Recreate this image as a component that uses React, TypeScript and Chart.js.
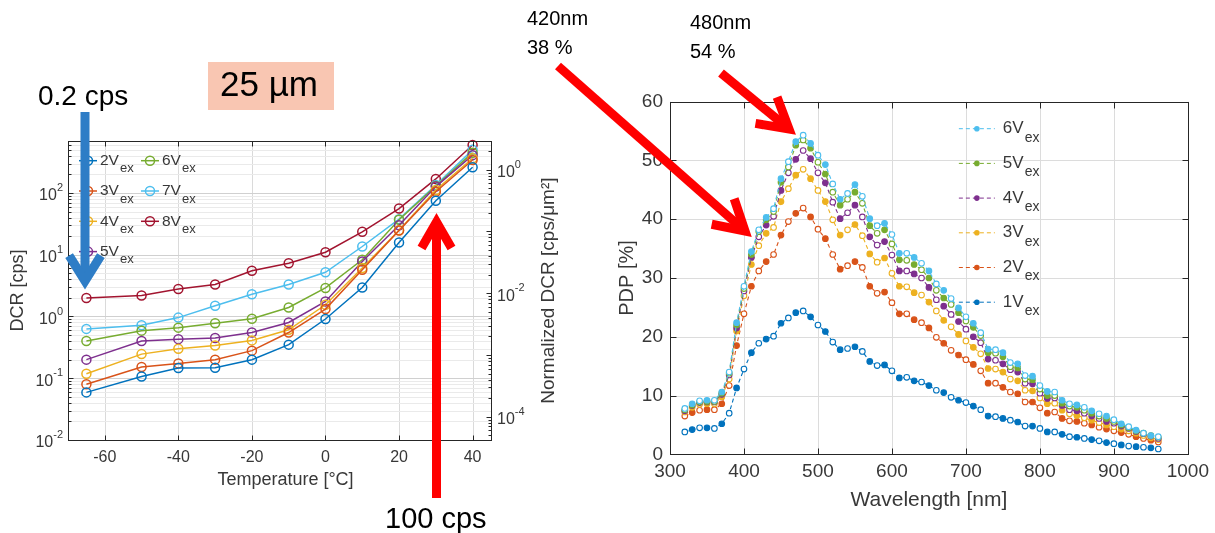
import React, { useEffect, useRef } from 'react';
import { Chart, registerables } from 'chart.js';

Chart.register(...registerables);

// ---------------- Left chart data (DCR vs temperature) ----------------
const temperatures = [-65, -50, -40, -30, -20, -10, 0, 10, 20, 30, 40];
const temperatureTicks = [-60, -40, -20, 0, 20, 40];
const dcr2V = [0.059, 0.107, 0.146, 0.148, 0.2, 0.35, 0.91, 2.95, 15.8, 75, 261];
const dcr3V = [0.08, 0.152, 0.174, 0.2, 0.28, 0.55, 1.32, 5.7, 24.6, 105, 343];
const dcr4V = [0.118, 0.246, 0.3, 0.34, 0.41, 0.61, 1.55, 6.1, 25, 112, 366];
const dcr5V = [0.2, 0.4, 0.43, 0.45, 0.55, 0.8, 1.75, 7.8, 30, 127, 410];
const dcr6V = [0.4, 0.59, 0.66, 0.78, 0.92, 1.4, 2.9, 8.3, 37, 130, 450];
const dcr7V = [0.63, 0.72, 0.96, 1.49, 2.3, 3.3, 5.2, 13.6, 37.7, 135, 500];
const dcr8V = [1.99, 2.19, 2.78, 3.3, 5.5, 7.3, 11, 23.5, 56, 169, 600];
const dcrLabels = ['2V', '3V', '4V', '5V', '6V', '7V', '8V'];
const dcrColors = ['#0072BD', '#D95319', '#EDB120', '#7E2F8E', '#77AC30', '#4DBEEE', '#A2142F'];
const dcrAxisMin = 0.01;
const dcrAxisMax = 690;
const pixelAreaUm2 = 238; // normalization factor for the right axis
const dcrDecades = [-2, -1, 0, 1, 2];
const normDecades = [-4, -2, 0];

// ---------------- Right chart data (PDP vs wavelength) ----------------
const wavelengths = [
  320, 330, 340, 350, 360, 370, 380, 390, 400, 410,
  420, 430, 440, 450, 460, 470, 480, 490, 500, 510,
  520, 530, 540, 550, 560, 570, 580, 590, 600, 610,
  620, 630, 640, 650, 660, 670, 680, 690, 700, 710,
  720, 730, 740, 750, 760, 770, 780, 790, 800, 810,
  820, 830, 840, 850, 860, 870, 880, 890, 900, 910,
  920, 930, 940, 950, 960,
];
const pdp6V = [
  7.8, 8.6, 9.1, 9.2, 9.2, 10.6, 14.0, 22.4, 28.6, 34.5,
  38.2, 40.3, 41.8, 46.9, 49.8, 53.2, 54.3, 52.9, 50.9, 49.3,
  46.0, 43.4, 44.4, 45.9, 43.9, 40.1, 38.9, 39.3, 37.4, 34.2,
  34.2, 33.5, 32.5, 31.2, 29.0, 27.9, 26.5, 24.9, 23.4, 22.3,
  20.7, 17.9, 17.8, 17.3, 15.6, 15.4, 13.4, 13.3, 11.7, 10.7,
  10.6, 9.2, 8.6, 8.4, 8.0, 7.4, 6.9, 6.5, 5.9, 5.2,
  4.7, 4.1, 3.6, 3.2, 3.0,
];
const pdp5V = [
  7.6, 8.4, 8.9, 9.0, 9.0, 10.4, 13.8, 22.0, 28.2, 34.0,
  37.9, 39.9, 41.3, 46.3, 48.9, 52.6, 53.5, 52.1, 49.7, 47.7,
  44.6, 42.4, 43.4, 44.6, 42.7, 38.9, 37.6, 38.2, 35.8, 33.1,
  33.0, 32.3, 31.4, 30.0, 27.9, 26.6, 25.5, 24.1, 22.7, 21.6,
  20.2, 17.3, 17.2, 16.6, 14.9, 14.7, 12.8, 12.7, 11.1, 10.0,
  10.0, 8.7, 8.2, 8.0, 7.5, 7.0, 6.5, 6.1, 5.6, 5.0,
  4.5, 4.0, 3.6, 3.2, 2.9,
];
const pdp4V = [
  7.4, 8.3, 8.8, 8.9, 8.9, 10.2, 13.5, 21.5, 27.8, 33.5,
  37.0, 39.0, 40.5, 44.9, 47.9, 50.2, 51.7, 50.3, 47.9, 46.2,
  42.9, 40.1, 41.1, 42.4, 40.4, 37.0, 35.6, 36.2, 33.9, 31.2,
  31.2, 30.7, 30.0, 28.4, 26.3, 25.2, 23.8, 22.6, 21.3, 20.0,
  19.0, 16.2, 16.0, 15.4, 14.4, 14.0, 12.1, 12.0, 10.4, 9.5,
  9.6, 8.3, 7.6, 7.4, 7.0, 6.5, 6.1, 5.6, 5.3, 4.8,
  4.4, 3.9, 3.5, 3.1, 2.7,
];
const pdp3V = [
  7.2, 8.0, 8.5, 8.6, 8.6, 9.8, 12.8, 21.0, 27.0, 32.3,
  35.5, 37.6, 38.6, 43.0, 45.2, 47.5, 48.5, 46.9, 44.9, 43.0,
  39.9, 37.3, 38.2, 39.1, 37.2, 34.1, 32.7, 33.4, 30.8, 28.6,
  28.5, 27.5, 27.1, 25.9, 24.4, 22.8, 21.7, 20.4, 19.3, 18.2,
  17.1, 14.6, 14.5, 14.0, 12.8, 12.5, 10.9, 10.8, 9.6, 8.6,
  8.7, 7.5, 6.9, 6.6, 6.2, 5.8, 5.4, 5.0, 4.7, 4.3,
  4.0, 3.6, 3.2, 2.8, 2.5,
];
const pdp2V = [
  6.5, 7.1, 7.5, 7.6, 7.6, 8.6, 11.7, 18.5, 23.9, 28.6,
  31.2, 32.8, 34.0, 37.3, 39.6, 41.0, 41.9, 40.4, 38.3, 36.7,
  34.0, 31.5, 32.1, 32.8, 31.8, 28.6, 27.4, 27.6, 25.8, 23.9,
  23.9, 22.9, 22.4, 21.5, 19.9, 18.9, 17.7, 16.9, 16.1, 15.3,
  14.2, 12.1, 12.1, 11.4, 10.6, 10.3, 8.9, 8.9, 7.9, 7.0,
  7.2, 6.1, 5.7, 5.6, 5.3, 5.0, 4.6, 4.3, 4.0, 3.7,
  3.4, 3.0, 2.7, 2.4, 2.1,
];
const pdp1V = [
  3.8, 4.2, 4.5, 4.5, 4.4, 5.2, 7.0, 11.3, 14.5, 17.3,
  18.9, 19.6, 20.1, 22.3, 23.2, 24.1, 24.4, 23.4, 22.0, 20.9,
  19.1, 17.8, 18.0, 18.3, 17.5, 15.8, 15.1, 15.2, 14.2, 13.0,
  13.1, 12.5, 12.3, 11.7, 10.9, 10.5, 9.7, 9.2, 8.8, 8.2,
  7.6, 6.5, 6.4, 6.1, 5.8, 5.5, 4.8, 4.8, 4.4, 3.8,
  3.8, 3.4, 3.0, 2.9, 2.7, 2.5, 2.3, 2.0, 1.8, 1.6,
  1.4, 1.3, 1.2, 1.1, 0.9,
];
const pdpLabels = ['6V', '5V', '4V', '3V', '2V', '1V'];
const pdpColors = ['#4DBEEE', '#77AC30', '#7E2F8E', '#EDB120', '#D95319', '#0072BD'];
const wavelengthTicks = [300, 400, 500, 600, 700, 800, 900, 1000];
const pdpTicks = [0, 10, 20, 30, 40, 50, 60];

// ---------------- drawing helpers ----------------
const FONT = "'Liberation Sans', Arial, Helvetica, sans-serif";
const INK = '#262626';
const LABEL = '#383838';

function seg(ctx: any, x1: number, y1: number, x2: number, y2: number) {
  ctx.beginPath();
  ctx.moveTo(x1, y1);
  ctx.lineTo(x2, y2);
  ctx.stroke();
}
const r5 = (v: number) => Math.round(v) + 0.5;

function supLabel(ctx: any, base: string, exp: string, x: number, y: number, align: string, size: number, expSize: number) {
  ctx.font = `${size}px ${FONT}`;
  const wb = ctx.measureText(base).width;
  ctx.font = `${expSize}px ${FONT}`;
  const we = ctx.measureText(exp).width;
  const start = align === 'right' ? x - wb - we : x;
  ctx.textAlign = 'left';
  ctx.textBaseline = 'middle';
  ctx.font = `${size}px ${FONT}`;
  ctx.fillText(base, start, y + 3);
  ctx.font = `${expSize}px ${FONT}`;
  ctx.fillText(exp, start + wb, y - 5);
}

function subLabel(ctx: any, base: string, sub: string, x: number, y: number, size: number, subSize: number, drop: number) {
  ctx.textAlign = 'left';
  ctx.textBaseline = 'middle';
  ctx.font = `${size}px ${FONT}`;
  ctx.fillText(base, x, y);
  const w = ctx.measureText(base).width;
  ctx.font = `${subSize}px ${FONT}`;
  ctx.fillText(sub, x + w + 1, y + drop);
}

function vText(ctx: any, text: string, x: number, y: number, size: number) {
  ctx.save();
  ctx.translate(x, y);
  ctx.rotate(-Math.PI / 2);
  ctx.textAlign = 'center';
  ctx.textBaseline = 'middle';
  ctx.font = `${size}px ${FONT}`;
  ctx.fillText(text, 0, 0);
  ctx.restore();
}

function eachLog(scale: any, fn: (v: number, major: boolean) => void) {
  for (let d = -6; d <= 4; d++) {
    for (let k = 1; k <= 9; k++) {
      const v = k * Math.pow(10, d);
      if (v < scale.min * 0.999 || v > scale.max * 1.001) continue;
      fn(v, k === 1);
    }
  }
}

// ---------------- left chart plugin ----------------
const leftFrame = {
  id: 'leftFrame',
  beforeDatasetsDraw(chart: any) {
    const { ctx, chartArea: a, scales } = chart;
    const xs = scales.x;
    const ys = scales.y;
    ctx.save();
    ctx.lineWidth = 1;
    ctx.strokeStyle = '#DADADA';
    for (const v of temperatureTicks) {
      const px = r5(xs.getPixelForValue(v));
      seg(ctx, px, a.top, px, a.bottom);
    }
    eachLog(ys, (v, major) => {
      const py = r5(ys.getPixelForValue(v));
      ctx.strokeStyle = major ? '#D0D0D0' : '#EAEAEA';
      seg(ctx, a.left, py, a.right, py);
    });
    ctx.restore();
  },
  afterDatasetsDraw(chart: any) {
    const { ctx, chartArea: a, scales } = chart;
    const xs = scales.x;
    const ys = scales.y;
    const y2 = scales.y2;
    ctx.save();
    ctx.strokeStyle = INK;
    ctx.lineWidth = 1;
    const L = r5(a.left), R = r5(a.right), T = r5(a.top), B = r5(a.bottom);
    ctx.strokeRect(L, T, R - L, B - T);
    for (const v of temperatureTicks) {
      const px = r5(xs.getPixelForValue(v));
      seg(ctx, px, B, px, B - 5);
      seg(ctx, px, T, px, T + 5);
    }
    eachLog(ys, (v, major) => {
      const py = r5(ys.getPixelForValue(v));
      seg(ctx, L, py, L + (major ? 5 : 3), py);
    });
    eachLog(y2, (v, major) => {
      const py = r5(y2.getPixelForValue(v));
      seg(ctx, R, py, R - (major ? 5 : 3), py);
    });
    ctx.fillStyle = LABEL;
    for (const d of dcrDecades) {
      supLabel(ctx, '10', String(d), a.left - 5, ys.getPixelForValue(Math.pow(10, d)), 'right', 16, 11);
    }
    for (const d of normDecades) {
      supLabel(ctx, '10', String(d), a.right + 6, y2.getPixelForValue(Math.pow(10, d)), 'left', 16, 11);
    }
    const cy = (a.top + a.bottom) / 2;
    vText(ctx, 'DCR [cps]', 18.5, cy, 18);
    vText(ctx, 'Normalized DCR [cps/\u03BCm\u00B2]', 549, cy, 19);
    ctx.textAlign = 'center';
    ctx.textBaseline = 'middle';
    ctx.font = `18px ${FONT}`;
    ctx.fillText('Temperature [\u00B0C]', (a.left + a.right) / 2 + 6, 360);

    // legend (two columns)
    dcrLabels.forEach((lab, i) => {
      const col = i < 4 ? 0 : 1;
      const row = col === 0 ? i : i - 4;
      const x0 = a.left + (col === 0 ? 11 : 73);
      const y = a.top + 19.5 + row * 30.3;
      ctx.strokeStyle = dcrColors[i];
      ctx.lineWidth = 1.5;
      seg(ctx, x0, y, x0 + 18, y);
      ctx.beginPath();
      ctx.arc(x0 + 9, y, 4.5, 0, Math.PI * 2);
      ctx.stroke();
      ctx.fillStyle = LABEL;
      subLabel(ctx, lab, 'ex', x0 + 21, y, 15.5, 13, 8);
    });
    ctx.restore();
  },
};

// ---------------- right chart plugin ----------------
const rightFrame = {
  id: 'rightFrame',
  beforeDatasetsDraw(chart: any) {
    const { ctx, chartArea: a, scales } = chart;
    const xs = scales.x;
    const ys = scales.y;
    ctx.save();
    ctx.lineWidth = 1;
    ctx.strokeStyle = '#DCDCDC';
    for (const v of wavelengthTicks) {
      const px = r5(xs.getPixelForValue(v));
      seg(ctx, px, a.top, px, a.bottom);
    }
    for (const v of pdpTicks) {
      const py = r5(ys.getPixelForValue(v));
      seg(ctx, a.left, py, a.right, py);
    }
    ctx.restore();
  },
  afterDatasetsDraw(chart: any) {
    const { ctx, chartArea: a, scales } = chart;
    const xs = scales.x;
    const ys = scales.y;
    ctx.save();
    ctx.strokeStyle = INK;
    ctx.lineWidth = 1;
    const L = r5(a.left), R = r5(a.right), T = r5(a.top), B = r5(a.bottom);
    ctx.strokeRect(L, T, R - L, B - T);
    for (const v of wavelengthTicks) {
      const px = r5(xs.getPixelForValue(v));
      seg(ctx, px, B, px, B - 6);
      seg(ctx, px, T, px, T + 6);
    }
    for (const v of pdpTicks) {
      const py = r5(ys.getPixelForValue(v));
      seg(ctx, L, py, L + 6, py);
      seg(ctx, R, py, R - 6, py);
    }
    ctx.fillStyle = LABEL;
    vText(ctx, 'PDP [%]', 57.5, (a.top + a.bottom) / 2, 20);
    ctx.textAlign = 'center';
    ctx.textBaseline = 'middle';
    ctx.font = `21px ${FONT}`;
    ctx.fillText('Wavelength [nm]', (a.left + a.right) / 2, 420);

    // legend
    pdpLabels.forEach((lab, i) => {
      const y = a.top + 27 + i * 34.7;
      const x0 = a.right - 229;
      ctx.strokeStyle = pdpColors[i];
      ctx.lineWidth = 1;
      ctx.setLineDash([4, 3]);
      seg(ctx, x0, y, x0 + 36, y);
      ctx.setLineDash([]);
      ctx.beginPath();
      ctx.arc(x0 + 18, y, 2.8, 0, Math.PI * 2);
      ctx.fillStyle = pdpColors[i];
      ctx.fill();
      ctx.fillStyle = LABEL;
      subLabel(ctx, lab, 'ex', x0 + 44, y, 17, 14, 9);
    });
    ctx.restore();
  },
};

function leftConfig(): any {
  const series = [dcr2V, dcr3V, dcr4V, dcr5V, dcr6V, dcr7V, dcr8V];
  return {
    type: 'line',
    data: {
      datasets: series.map((vals, i) => ({
        label: dcrLabels[i],
        data: temperatures.map((t, j) => ({ x: t, y: vals[j] })),
        borderColor: dcrColors[i],
        backgroundColor: 'rgba(0,0,0,0)',
        borderWidth: 1.5,
        pointRadius: 4.5,
        pointBorderWidth: 1.5,
        pointBackgroundColor: 'rgba(0,0,0,0)',
        pointBorderColor: dcrColors[i],
        tension: 0,
        clip: false,
        yAxisID: 'y',
      })),
    },
    options: {
      responsive: false,
      animation: false,
      devicePixelRatio: 1,
      events: [],
      layout: { padding: { left: 0, top: 21.2, right: 9, bottom: 20 } },
      plugins: { legend: { display: false }, tooltip: { enabled: false } },
      scales: {
        x: {
          type: 'linear',
          min: -70,
          max: 45,
          afterBuildTicks: (ax: any) => {
            ax.ticks = temperatureTicks.map((v) => ({ value: v }));
          },
          afterFit: (s: any) => {
            s.height = 60;
          },
          grid: { display: false, drawTicks: false },
          border: { display: false },
          ticks: {
            font: { family: FONT, size: 16 },
            color: LABEL,
            padding: 8,
            maxRotation: 0,
            callback: (v: any) => String(v),
          },
        },
        y: {
          type: 'logarithmic',
          position: 'left',
          min: dcrAxisMin,
          max: dcrAxisMax,
          afterFit: (s: any) => {
            s.width = 68;
          },
          grid: { display: false, drawTicks: false },
          border: { display: false },
          ticks: { display: false },
        },
        y2: {
          type: 'logarithmic',
          position: 'right',
          min: dcrAxisMin / pixelAreaUm2,
          max: dcrAxisMax / pixelAreaUm2,
          afterFit: (s: any) => {
            s.width = 70;
          },
          grid: { display: false, drawTicks: false },
          border: { display: false },
          ticks: { display: false },
        },
      },
    },
    plugins: [leftFrame],
  };
}

function rightConfig(): any {
  const series = [pdp6V, pdp5V, pdp4V, pdp3V, pdp2V, pdp1V];
  return {
    type: 'line',
    data: {
      datasets: series.map((vals, i) => ({
        label: pdpLabels[i],
        data: wavelengths.map((w, j) => ({ x: w, y: vals[j] })),
        borderColor: pdpColors[i],
        backgroundColor: 'rgba(0,0,0,0)',
        borderWidth: 1.1,
        borderDash: [4, 3],
        pointRadius: 2.8,
        pointBorderWidth: 1.1,
        pointBorderColor: pdpColors[i],
        pointBackgroundColor: (c: any) => (c.dataIndex % 2 === 0 ? '#ffffff' : pdpColors[i]),
        tension: 0,
        clip: false,
      })),
    },
    options: {
      responsive: false,
      animation: false,
      devicePixelRatio: 1,
      events: [],
      layout: { padding: { left: 0, top: 21.7, right: 23, bottom: 7.7 } },
      plugins: { legend: { display: false }, tooltip: { enabled: false } },
      scales: {
        x: {
          type: 'linear',
          min: 300,
          max: 1000,
          afterBuildTicks: (ax: any) => {
            ax.ticks = wavelengthTicks.map((v) => ({ value: v }));
          },
          afterFit: (s: any) => {
            s.height = 58;
          },
          grid: { display: false, drawTicks: false },
          border: { display: false },
          ticks: {
            font: { family: FONT, size: 19 },
            color: LABEL,
            padding: 6,
            maxRotation: 0,
            callback: (v: any) => String(v),
          },
        },
        y: {
          type: 'linear',
          min: 0,
          max: 60,
          afterBuildTicks: (ax: any) => {
            ax.ticks = pdpTicks.map((v) => ({ value: v }));
          },
          afterFit: (s: any) => {
            s.width = 100;
          },
          grid: { display: false, drawTicks: false },
          border: { display: false },
          ticks: {
            font: { family: FONT, size: 19 },
            color: LABEL,
            padding: 7,
            callback: (v: any) => String(v),
          },
        },
      },
    },
    plugins: [rightFrame],
  };
}

function headPoints(tipX: number, tipY: number, fromX: number, fromY: number, len: number, spreadDeg: number) {
  const ang = Math.atan2(fromY - tipY, fromX - tipX);
  const s = (spreadDeg * Math.PI) / 180;
  const p1 = [tipX + len * Math.cos(ang + s), tipY + len * Math.sin(ang + s)];
  const p2 = [tipX + len * Math.cos(ang - s), tipY + len * Math.sin(ang - s)];
  return `${p1[0]},${p1[1]} ${tipX},${tipY} ${p2[0]},${p2[1]}`;
}

function Arrow(props: { x1: number; y1: number; x2: number; y2: number; color: string; w: number; len: number; spread: number }) {
  const { x1, y1, x2, y2, color, w, len, spread } = props;
  return (
    <g>
      <line x1={x1} y1={y1} x2={x2} y2={y2} stroke={color} strokeWidth={w} strokeLinecap="butt" />
      <polyline
        points={headPoints(x2, y2, x1, y1, len, spread)}
        fill="none"
        stroke={color}
        strokeWidth={w}
        strokeLinejoin="miter"
        strokeMiterlimit={10}
        strokeLinecap="butt"
      />
    </g>
  );
}

export default function App() {
  const leftRef = useRef<HTMLCanvasElement>(null);
  const rightRef = useRef<HTMLCanvasElement>(null);

  useEffect(() => {
    const c1 = new Chart(leftRef.current as HTMLCanvasElement, leftConfig());
    const c2 = new Chart(rightRef.current as HTMLCanvasElement, rightConfig());
    return () => {
      c1.destroy();
      c2.destroy();
    };
  }, []);

  const textFont = "'Liberation Sans', Arial, sans-serif";

  return (
    <div
      style={{
        position: 'fixed',
        left: 0,
        top: 0,
        width: 1215,
        height: 533,
        background: '#ffffff',
        overflow: 'hidden',
      }}
    >
      <canvas ref={leftRef} width={570} height={400} style={{ position: 'absolute', left: 0, top: 120 }} />
      <canvas ref={rightRef} width={645} height={440} style={{ position: 'absolute', left: 570, top: 80 }} />
      <svg
        width={1215}
        height={533}
        style={{ position: 'absolute', left: 0, top: 0, pointerEvents: 'none' }}
        fontFamily={textFont}
      >
        <rect x={208} y={62} width={126} height={48} fill="#F9C6B2" />
        <text x={220} y={96} fontSize={35} fill="#000">25 µm</text>
        <text x={38} y={105} fontSize={28} fill="#000">0.2 cps</text>
        <text x={385} y={528} fontSize={29} fill="#000">100 cps</text>
        <text x={527} y={25} fontSize={20} fill="#000">420nm</text>
        <text x={527} y={54} fontSize={20} fill="#000">38 %</text>
        <text x={690} y={29} fontSize={20} fill="#000">480nm</text>
        <text x={690} y={58} fontSize={20} fill="#000">54 %</text>
        <Arrow x1={85} y1={112} x2={85} y2={281} color="#2E7DC6" w={9} len={30} spread={32} />
        <Arrow x1={436.5} y1={498} x2={436.5} y2={222} color="#FF0000" w={9} len={30} spread={30} />
        <Arrow x1={558} y1={66} x2={745} y2={231} color="#FF0000" w={9} len={34} spread={30} />
        <Arrow x1={721} y1={73} x2={789} y2={129} color="#FF0000" w={9} len={34} spread={30} />
      </svg>
    </div>
  );
}
